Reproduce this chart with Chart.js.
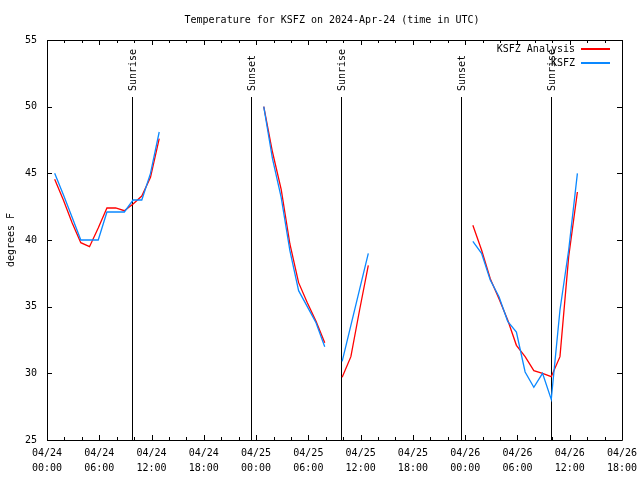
<!DOCTYPE html>
<html>
<head>
<meta charset="utf-8">
<script src="https://cdn.jsdelivr.net/npm/chart.js@4.4.1/dist/chart.umd.min.js"></script>
<style>
  body { margin: 0; background: #fff; }
</style>
</head>
<body>
<canvas id="chart" width="640" height="480"></canvas>
<script>
// hours since 04/24 00:00 UTC (null values break the line)
const hours = [0.88, 1.88, 2.88, 3.88, 4.88, 5.88, 6.88, 7.88, 8.88, 9.88, 10.88, 11.88, 12.88,
  18,
  24.88, 25.88, 26.88, 27.88, 28.88, 29.88, 30.88, 31.88,
  32.88,
  33.88, 34.88, 35.88, 36.88,
  42,
  48.88, 49.88, 50.88, 51.88, 52.88, 53.88, 54.88, 55.88, 56.88, 57.88, 58.88, 59.88, 60.88];

const analysisF = [44.55, 43.0, 41.3, 39.8, 39.5, 40.9, 42.4, 42.4, 42.2, 42.7, 43.3, 44.7, 47.6,
  null,
  50.0, 46.6, 43.8, 39.7, 36.8, 35.3, 33.9, 32.3,
  null,
  29.7, 31.25, 34.75, 38.1,
  null,
  41.1, 39.25, 37.1, 35.6, 34.0, 32.1, 31.25, 30.2, 30.0, 29.75, 31.25, 38.75, 43.6];

const observedF = [45.0, 43.4, 41.7, 40.0, 40.0, 40.0, 42.1, 42.1, 42.1, 43.0, 43.0, 45.0, 48.1,
  null,
  50.0, 46.1, 43.2, 39.2, 36.2, 35.0, 33.8, 32.0,
  null,
  30.9, 33.6, 36.3, 39.0,
  null,
  39.9, 39.0, 37.0, 35.75, 33.9, 33.1, 30.1, 28.95, 30.0, 28.05, 34.75, 39.25, 45.0];

const tickHours = [0, 6, 12, 18, 24, 30, 36, 42, 48, 54, 60, 66];
const tickDates = ['04/24', '04/24', '04/24', '04/24', '04/25', '04/25', '04/25', '04/25', '04/26', '04/26', '04/26', '04/26'];
const tickTimes = ['00:00', '06:00', '12:00', '18:00', '00:00', '06:00', '12:00', '18:00', '00:00', '06:00', '12:00', '18:00'];

const sunHours = [9.8, 23.45, 33.8, 47.5, 57.8];
const sunLabels = ['Sunrise', 'Sunset', 'Sunrise', 'Sunset', 'Sunrise'];

const FONT = '10px "DejaVu Sans Mono", monospace';
const RED = '#ff0000';
const BLUE = '#0a88ff';

function toPoints(vals) {
  return hours.map((h, i) => ({x: h, y: vals[i]}));
}

const gnuplotBits = {
  id: 'gnuplotBits',
  beforeDatasetsDraw(chart) {
    const ctx = chart.ctx;
    const xs = chart.scales.x;
    const area = chart.chartArea;
    ctx.save();
    ctx.strokeStyle = '#000';
    ctx.lineWidth = 1;
    ctx.fillStyle = '#000';
    ctx.font = FONT;
    sunHours.forEach((h, i) => {
      const px = Math.round(xs.getPixelForValue(h)) + 0.5;
      ctx.beginPath();
      ctx.moveTo(px, 97);
      ctx.lineTo(px, area.bottom);
      ctx.stroke();
      ctx.save();
      ctx.translate(px + 1, 91);
      ctx.rotate(-Math.PI / 2);
      ctx.textAlign = 'left';
      ctx.textBaseline = 'middle';
      ctx.fillText(sunLabels[i], 0, 0);
      ctx.restore();
    });
    ctx.restore();
  },
  afterDraw(chart) {
    const ctx = chart.ctx;
    const xs = chart.scales.x;
    const ys = chart.scales.y;
    const a = chart.chartArea;
    ctx.save();
    ctx.strokeStyle = '#000';
    ctx.lineWidth = 1;
    ctx.beginPath();
    // frame
    ctx.rect(a.left + 0.5, a.top + 0.5, a.right - a.left, a.bottom - a.top);
    // x ticks every 2h, longer every 6h, mirrored on top
    for (let h = 0; h <= 66; h += 2) {
      const px = Math.round(xs.getPixelForValue(h)) + 0.5;
      const len = h % 6 === 0 ? 5 : 3;
      ctx.moveTo(px, a.bottom);
      ctx.lineTo(px, a.bottom - len);
      ctx.moveTo(px, a.top);
      ctx.lineTo(px, a.top + len);
    }
    // y ticks, mirrored on right
    for (let v = 25; v <= 55; v += 5) {
      const py = Math.round(ys.getPixelForValue(v)) + 0.5;
      ctx.moveTo(a.left, py);
      ctx.lineTo(a.left + 5, py);
      ctx.moveTo(a.right, py);
      ctx.lineTo(a.right - 5, py);
    }
    ctx.stroke();

    ctx.fillStyle = '#000';
    ctx.font = FONT;
    // title
    ctx.textAlign = 'center';
    ctx.textBaseline = 'middle';
    ctx.fillText('Temperature for KSFZ on 2024-Apr-24 (time in UTC)', 332, 20);
    // y axis title
    ctx.save();
    ctx.translate(11, 240);
    ctx.rotate(-Math.PI / 2);
    ctx.fillText('degrees F', 0, 0);
    ctx.restore();

    // legend
    ctx.textAlign = 'right';
    ctx.fillText('KSFZ Analysis', 575, 49);
    ctx.fillText('KSFZ', 575, 63);
    ctx.fillStyle = RED;
    ctx.fillRect(581, 48, 29, 2);
    ctx.fillStyle = BLUE;
    ctx.fillRect(581, 62, 29, 2);
    ctx.restore();
  }
};

new Chart(document.getElementById('chart').getContext('2d'), {
  type: 'line',
  data: {
    datasets: [
      {
        label: 'KSFZ Analysis',
        data: toPoints(analysisF),
        borderColor: RED,
        borderWidth: 1.3,
        pointRadius: 0,
        tension: 0,
        spanGaps: false,
        order: 1
      },
      {
        label: 'KSFZ',
        data: toPoints(observedF),
        borderColor: BLUE,
        borderWidth: 1.3,
        pointRadius: 0,
        tension: 0,
        spanGaps: false,
        order: 0
      }
    ]
  },
  options: {
    responsive: false,
    animation: false,
    layout: { padding: { left: 0, right: 18, top: 40, bottom: 0 } },
    plugins: {
      legend: { display: false },
      title: { display: false },
      tooltip: { enabled: false }
    },
    scales: {
      x: {
        type: 'linear',
        min: 0,
        max: 66,
        afterBuildTicks: (scale) => { scale.ticks = tickHours.map(v => ({value: v})); },
        afterFit: (scale) => {
          scale.height = 40;
          scale.paddingLeft = 0;
          scale.paddingRight = 0;
        },
        grid: { display: false, drawTicks: false },
        border: { display: false },
        ticks: {
          autoSkip: false,
          maxRotation: 0,
          padding: 6,
          color: '#000',
          font: { family: '"DejaVu Sans Mono", monospace', size: 10, lineHeight: 1.5 },
          callback: (v) => {
            const i = tickHours.indexOf(v);
            return [tickDates[i], tickTimes[i]];
          }
        }
      },
      y: {
        min: 25,
        max: 55,
        afterFit: (scale) => { scale.width = 47; },
        grid: { display: false, drawTicks: false },
        border: { display: false },
        ticks: {
          stepSize: 5,
          padding: 10,
          color: '#000',
          font: { family: '"DejaVu Sans Mono", monospace', size: 10 }
        }
      }
    }
  },
  plugins: [gnuplotBits]
});
</script>
</body>
</html>
